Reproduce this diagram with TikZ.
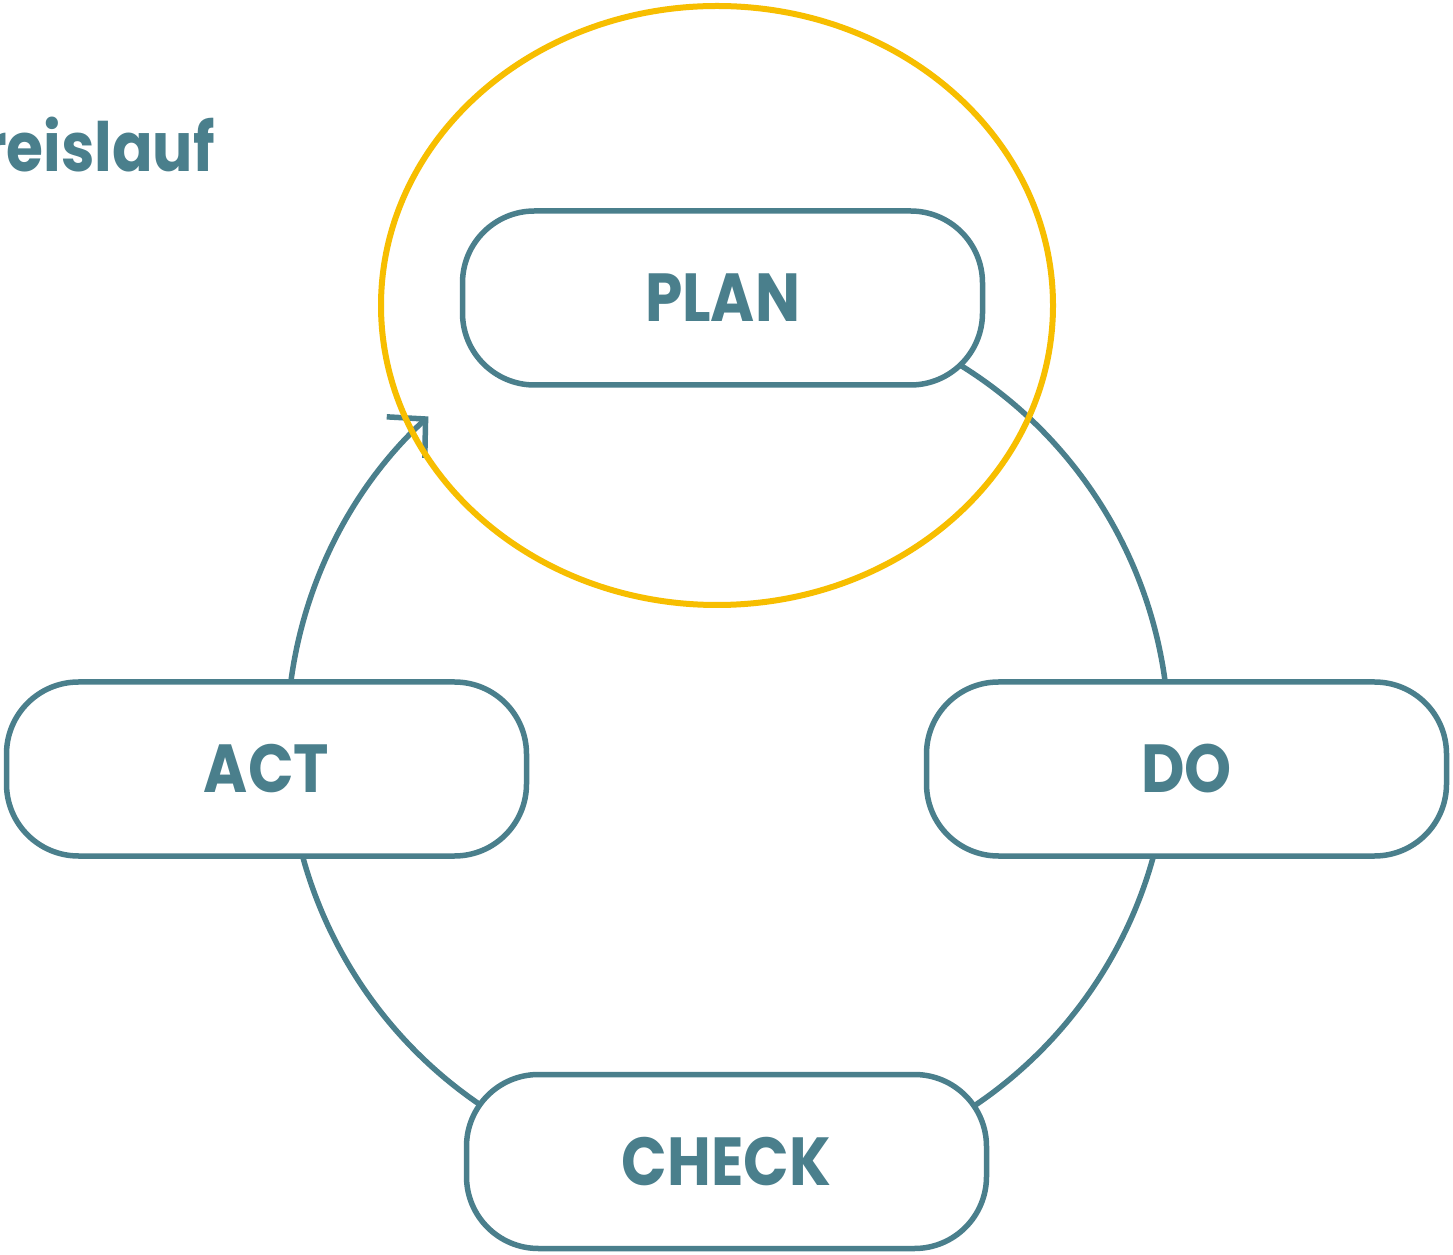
\documentclass[tikz,border=0pt]{standalone}
\usepackage{fontspec}
\newfontfamily\labelfont{Poppins}[FakeStretch=0.88]
\usetikzlibrary{arrows.meta,shapes.geometric}
\definecolor{teal}{RGB}{74,127,140}
\definecolor{gold}{RGB}{247,190,0}
\tikzset{
  phase/.style={draw=teal, line width=5.5pt, fill=white, rounded corners=72pt,
    minimum width=520pt, minimum height=174pt, inner sep=0pt,
    text=teal, font=\labelfont\fontsize{68}{76}\selectfont\bfseries},
  cycle/.style={draw=teal, line width=5.5pt},
}
\begin{document}
\begin{tikzpicture}[x=1pt,y=1pt]
\useasboundingbox (0,0) rectangle (1453,1254);
\fill[white] (0,0) rectangle (1453,1254);
\coordinate (c) at (728,514);
% cycle arcs
\draw[cycle] (c) ++(60:441) arc[start angle=60, end angle=5, radius=441];
\draw[cycle] (c) ++(-12:441) arc[start angle=-12, end angle=-58, radius=441];
\draw[cycle] (c) ++(238:441) arc[start angle=238, end angle=192, radius=441];
\draw[cycle, -{Straight Barb[length=27pt, width=56pt, line width=5.5pt]}] (c) ++(176:441) arc[start angle=176, end angle=132.8, radius=441];
% phases
\node[phase] (plan) at (722.5,956) {PLAN};
\node[phase] (act) at (266.5,485) {ACT};
\node[phase] (do) at (1186.5,485) {DO};
\node[phase] (check) at (726.5,92.5) {CHECK};
% title fragment
\node[anchor=base east, inner sep=0pt, text=teal, font=\labelfont\fontsize{68}{76}\selectfont\bfseries] (title) at (215,1082) {reislauf};
% highlight
\node[draw=gold, line width=6pt, ellipse, minimum width=672pt, minimum height=599pt, inner sep=0pt] (hl) at (717,948.5) {};
\end{tikzpicture}
\end{document}
